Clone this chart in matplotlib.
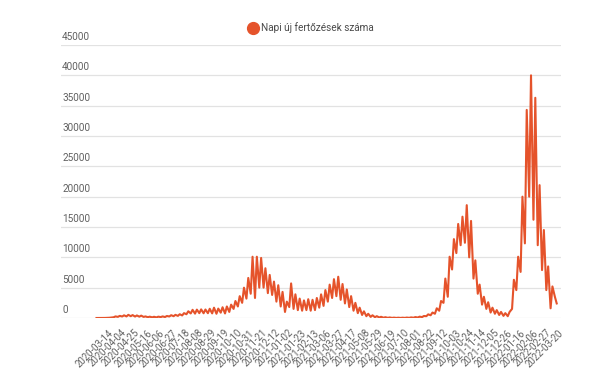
import pandas as pd
import matplotlib.pyplot as plt
from matplotlib.lines import Line2D

plt.rcParams['font.family'] = ['Roboto', 'DejaVu Sans']

# Heti két leolvasott érték: hétfői mélypont és csütörtöki csúcs (2020-02-24-i héttől)
first_monday = '2020-02-24'
monday_cases = [
    0, 0, 10, 40, 120, 190, 250, 260, 300, 240,
    220, 180, 130, 110, 100, 150, 160, 250, 300, 350,
    420, 620, 750, 720, 800, 780, 790, 760, 700, 880,
    750, 1000, 1500, 1900, 2500, 3200, 4000, 3300, 5000, 5000,
    4100, 3800, 2700, 1900, 1000, 1800, 1500, 1300, 1200, 1300,
    1200, 1300, 1700, 2000, 2700, 3300, 3600, 3000, 2400, 1800,
    1200, 800, 500, 300, 180, 130, 90, 50, 30, 20,
    15, 15, 20, 30, 50, 80, 150, 300, 450, 700,
    1200, 2500, 3500, 8000, 10700, 12000, 12400, 10000, 6500, 4000,
    2200, 1500, 900, 700, 500, 350, 300, 1500, 4600, 7600,
    12300, 20000, 16200, 12000, 7900, 4600, 1600, 3500,
]
thursday_cases = [
    1, 3, 25, 80, 260, 350, 440, 520, 480, 420,
    390, 260, 220, 200, 220, 260, 330, 460, 520, 620,
    800, 1110, 1350, 1380, 1420, 1400, 1520, 1700, 1550, 1770,
    1900, 2200, 2800, 3600, 5000, 6600, 10100, 10100, 9900, 8200,
    7100, 6000, 5400, 4300, 2700, 5700, 3900, 3200, 2900, 3100,
    3000, 3300, 3900, 4600, 5500, 6400, 6800, 5600, 4700, 3600,
    2500, 1700, 1100, 700, 450, 300, 200, 130, 90, 60,
    50, 50, 70, 100, 150, 220, 330, 600, 900, 1600,
    2800, 6500, 10100, 13000, 15500, 16700, 18600, 16000, 9500, 5500,
    3500, 2600, 1700, 1300, 1000, 800, 1000, 6300, 10100, 20000,
    34300, 40000, 36300, 21900, 14500, 8500, 5200, 2400,
]

tick_labels = [
    '2020-03-14', '2020-04-04', '2020-04-25', '2020-05-16', '2020-06-06',
    '2020-06-27', '2020-07-18', '2020-08-08', '2020-08-29', '2020-09-19',
    '2020-10-10', '2020-10-31', '2020-11-21', '2020-12-12', '2021-01-02',
    '2021-01-23', '2021-02-13', '2021-03-06', '2021-03-27', '2021-04-17',
    '2021-05-08', '2021-05-29', '2021-06-19', '2021-07-10', '2021-08-01',
    '2021-08-22', '2021-09-12', '2021-10-03', '2021-10-24', '2021-11-14',
    '2021-12-05', '2021-12-26', '2022-01-16', '2022-02-06', '2022-02-27',
    '2022-03-20',
]
y_ticks = [0, 5000, 10000, 15000, 20000, 25000, 30000, 35000, 40000, 45000]
series_name = 'Napi új fertőzések száma'
color = '#e5532b'

mondays = pd.date_range(first_monday, periods=len(monday_cases), freq='7D')
df = pd.concat([
    pd.DataFrame({'datum': mondays, 'eset': monday_cases}),
    pd.DataFrame({'datum': mondays + pd.Timedelta(days=3), 'eset': thursday_cases}),
]).sort_values('datum')

fig = plt.figure(figsize=(6.15, 3.85), dpi=100)
ax = fig.add_axes([61 / 615, 67 / 385, 500 / 615, 273 / 385])

ax.plot(df['datum'], df['eset'], color=color, lw=1.5)

ax.set_ylim(0, 45000)
ax.set_xlim(pd.Timestamp('2019-12-28'), pd.Timestamp('2022-03-24'))
ax.set_yticks(y_ticks)
ax.set_yticklabels([])
ax.grid(axis='y', color='#e2e2e2', lw=0.9)
ax.set_axisbelow(True)
ax.tick_params(length=0)
for s in ax.spines.values():
    s.set_visible(False)

for v in y_ticks:
    ax.annotate(str(v), xy=(0, v), xycoords=('axes fraction', 'data'),
                xytext=(0.8, 2.2), textcoords='offset points',
                ha='left', va='bottom', fontsize=7.2, color='#616161')

ax.set_xticks(pd.to_datetime(tick_labels))
ax.set_xticklabels(tick_labels, rotation=45, ha='right', rotation_mode='anchor',
                   fontsize=6.9, color='#616161')
ax.tick_params(axis='x', pad=7)

handle = Line2D([], [], marker='o', ls='', color=color, markersize=8.5)
fig.legend(handles=[handle], labels=[series_name], loc='center',
           bbox_to_anchor=(0.506, 1 - 28 / 385), frameon=False,
           handletextpad=0.3, handlelength=1.0, fontsize=7.2, labelcolor='#4a4a4a')

fig.savefig('out.png', dpi=100)
